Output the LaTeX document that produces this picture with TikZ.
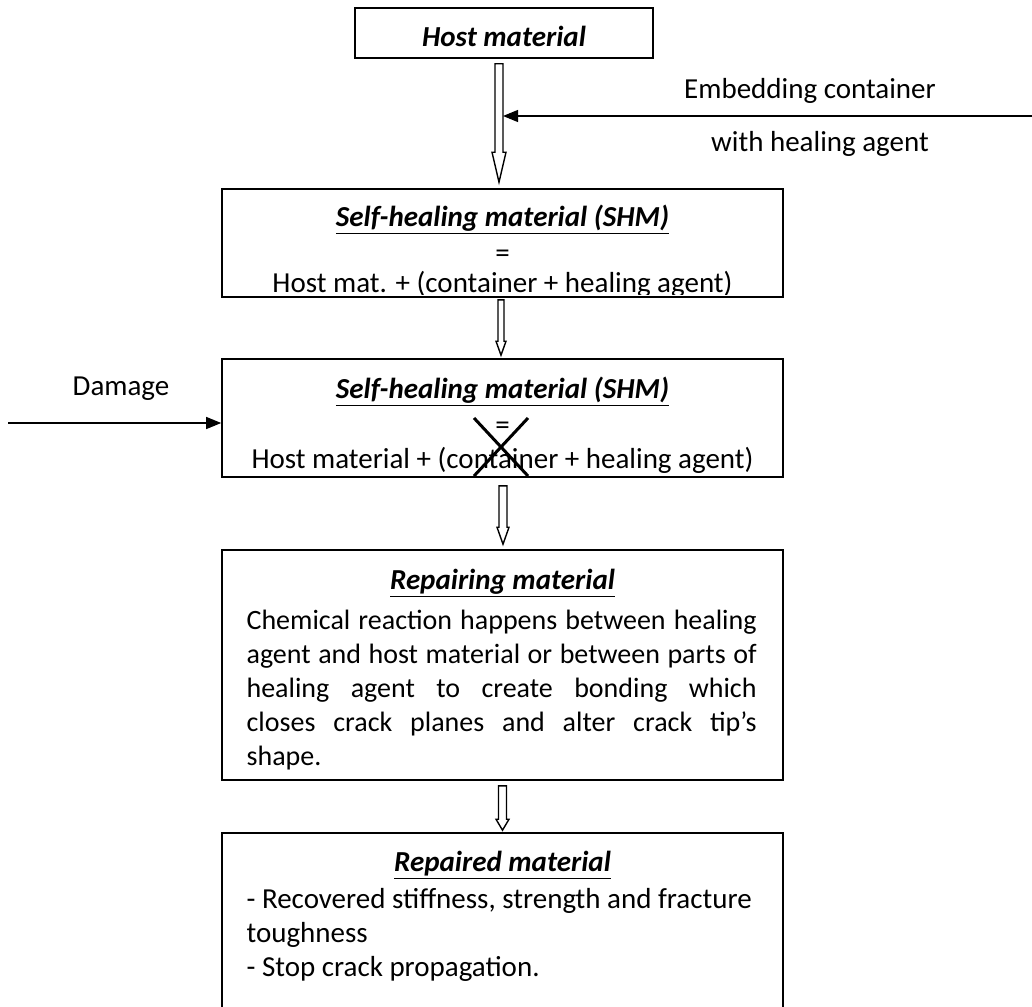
\documentclass[tikz,border=0pt]{standalone}
\usepackage{fontspec}
\setmainfont{Carlito}
\usetikzlibrary{arrows.meta, calc, positioning}

\newcommand{\bodyfont}{\fontsize{14.5}{17}\selectfont}
% hollow block arrow going down: start, end, shaft half width, head half width, head length
\newcommand{\hollowdown}[5]{%
  \draw[hollow] let \p1=(#1), \p2=(#2) in
    (\x1-#3,\y1) -- (\x1-#3,\y2+#5) -- (\x1-#4,\y2+#5) -- (\x1,\y2)
    -- (\x1+#4,\y2+#5) -- (\x1+#3,\y2+#5) -- (\x1+#3,\y1) -- cycle;}

\tikzset{
  box/.style={draw, line width=0.8pt, minimum width=280.5pt, inner sep=0pt},
  plaintext/.style={anchor=base, inner sep=0pt, font=\bodyfont},
  headtext/.style={plaintext, font=\bodyfont\bfseries\itshape},
  hollow/.style={draw, fill=white, line width=0.7pt},
  feed/.style={-{Triangle[length=7.5pt,width=6pt]}, line width=0.6pt}
}

\begin{document}
\begin{tikzpicture}[x=0.5pt, y=-0.5pt]
        \clip (0,0) rectangle (1032,1006);
        \fill[white] (0,0) rectangle (1032,1006);

        % Boxes
        \node[box, minimum width=149pt, minimum height=25pt] (host) at (504,33) {};
        \node[box, minimum height=54pt] (shm) at (502.5,243) {};
        \node[box, minimum height=59pt] (damaged) at (502.5,418) {};
        \node[box, minimum height=115pt] (repairing) at (502.5,665) {};
        \node[box, minimum height=95pt] (repaired) at (502.5,928) {};

        % Host material
        \node[headtext] at ($(host.north)+(0,39)$) {Host material};

        % Self-healing material
        \node[headtext] at ($(shm.north)+(0,38)$) {\underline{Self-healing material (SHM)}};
        \node[plaintext] at ($(shm.north)+(0,74)$) {=};
        \begin{scope}
            \clip (shm.north west) rectangle ($(shm.south east)+(0,-3)$);
            \node[plaintext] at ($(shm.north)+(0,104)$) {Host mat. + (container + healing agent)};
        \end{scope}

        % Damaged self-healing material
        \node[headtext] at ($(damaged.north)+(0,40)$) {\underline{Self-healing material (SHM)}};
        \node[plaintext] at ($(damaged.north)+(0,76)$) {=};
        \begin{scope}
            \clip (damaged.north west) rectangle ($(damaged.south east)+(0,-5)$);
            \node[plaintext] at ($(damaged.north)+(0,110)$) {Host material + (container + healing agent)};
        \end{scope}
        \draw[line width=1.5pt] (474,418) -- (528,476) (528,418) -- (474,476);

        % Repairing material
        \node[headtext] at ($(repairing.north)+(0,40)$) {\underline{Repairing material}};
        \node[plaintext, font=\fontsize{14}{17}\selectfont, anchor=base west, text width=255pt, align=justify]
            at ($(repairing.north west)+(25,80)$)
            {Chemical reaction happens between healing\linebreak agent and host material or between parts of\linebreak
             healing agent to create bonding which\linebreak closes crack planes and alter crack tip’s\linebreak shape.};

        % Repaired material
        \node[headtext] at ($(repaired.north)+(0,39)$) {\underline{Repaired material}};
        \node[plaintext, anchor=base west, text width=255pt, align=flush left] at ($(repaired.north west)+(25,76)$)
            {- Recovered stiffness, strength and fracture\\ toughness\\ - Stop crack propagation.};

        % Block arrows
        \hollowdown{$(host.south)+(-5,5)$}{$(shm.north)+(0,-6)$}{2pt}{3.5pt}{15pt}
        \hollowdown{$(shm.south)+(-1.5,2)$}{$(damaged.north)+(0,-3)$}{1.5pt}{2.5pt}{7pt}
        \hollowdown{$(damaged.south)+(0.5,8)$}{$(repairing.north)+(0,-5)$}{2pt}{3pt}{8.5pt}
        \hollowdown{$(repairing.south)+(0,5)$}{$(repaired.north)+(0,-2)$}{2pt}{3.25pt}{5.5pt}

        % Embedding container
        \coordinate (embedsrc) at (1040,116);
        \coordinate (embedhit) at (503,116);
        \draw[feed] (embedsrc) -- (embedhit);
        \node[plaintext] (embedlbl) at (810,98) {Embedding container};
        \node[plaintext] (agentlbl) at (820,151) {with healing agent};

        % Damage
        \coordinate (damagesrc) at (8,423);
        \draw[feed] (damagesrc) -- (damagesrc -| damaged.west);
        \node[plaintext] (damagelbl) at (121,395) {Damage};
\end{tikzpicture}
\end{document}
